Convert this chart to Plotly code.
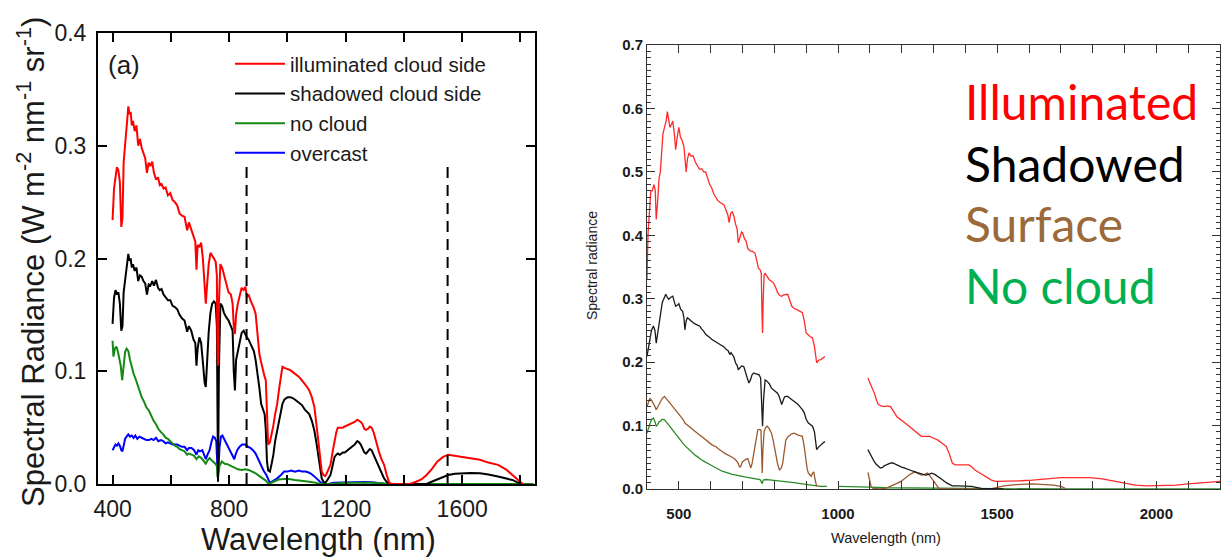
import plotly.graph_objects as go

# ---------------- Panel (a): spectral radiance, W m-2 nm-1 sr-1 ----------------
illum_nm = [400, 405, 410, 415, 420, 425, 430, 434, 438, 442,
            446, 450, 454, 458, 462, 466, 470, 476, 482, 488,
            494, 500, 506, 512, 518, 524, 530, 536, 542, 549,
            556, 562, 568, 575, 582, 590, 598, 606, 614, 622,
            630, 638, 647, 656, 662, 670, 678, 684, 688, 692,
            698, 704, 710, 716, 720, 724, 730, 736, 742, 748,
            754, 758, 760, 762, 765, 770, 776, 782, 790, 798,
            806, 812, 816, 820, 824, 830, 836, 843, 850, 856,
            861, 867, 873, 879, 885, 891, 897, 904, 910, 916,
            922, 926, 930, 934, 940, 946, 952, 958, 965, 972,
            978, 983, 990, 1001, 1010, 1020, 1030, 1040, 1050, 1060,
            1068, 1075, 1084, 1093, 1100, 1105, 1112, 1118, 1124, 1130,
            1136, 1142, 1148, 1155, 1162, 1168, 1173, 1180, 1190, 1197,
            1206, 1214, 1222, 1231, 1240, 1246, 1252, 1258, 1264, 1270,
            1277, 1283, 1289, 1296, 1302, 1307, 1315, 1323, 1332, 1341,
            1350, 1360, 1380, 1400, 1420, 1442, 1460, 1478, 1495, 1515,
            1535, 1552, 1575, 1600, 1630, 1661, 1690, 1723, 1750, 1772,
            1790, 1808]
illum_rad = [0.234, 0.262, 0.272, 0.281, 0.278, 0.268, 0.228, 0.236, 0.285, 0.302,
             0.310, 0.322, 0.335, 0.328, 0.330, 0.318, 0.322, 0.313, 0.318, 0.300,
             0.306, 0.298, 0.294, 0.289, 0.276, 0.285, 0.282, 0.286, 0.276, 0.270,
             0.272, 0.265, 0.266, 0.262, 0.263, 0.256, 0.258, 0.252, 0.250, 0.247,
             0.240, 0.238, 0.237, 0.225, 0.232, 0.226, 0.220, 0.215, 0.190, 0.212,
             0.210, 0.214, 0.200, 0.168, 0.160, 0.175, 0.195, 0.205, 0.203, 0.200,
             0.197, 0.185, 0.120, 0.105, 0.160, 0.195, 0.192, 0.185, 0.178, 0.170,
             0.168, 0.160, 0.140, 0.133, 0.150, 0.160, 0.168, 0.174, 0.172, 0.175,
             0.166, 0.168, 0.163, 0.160, 0.156, 0.151, 0.135, 0.115, 0.108, 0.100,
             0.095, 0.092, 0.060, 0.035, 0.037, 0.044, 0.052, 0.062, 0.071, 0.085,
             0.096, 0.104, 0.103, 0.102, 0.101, 0.099, 0.097, 0.095, 0.092, 0.089,
             0.086, 0.083, 0.077, 0.068, 0.055, 0.041, 0.025, 0.011, 0.008, 0.007,
             0.010, 0.013, 0.017, 0.028, 0.040, 0.046, 0.050, 0.050, 0.050, 0.051,
             0.052, 0.053, 0.054, 0.055, 0.057, 0.056, 0.055, 0.053, 0.049, 0.048,
             0.049, 0.051, 0.050, 0.046, 0.040, 0.035, 0.028, 0.022, 0.017, 0.008,
             0.001, 0.0, 0.0, 0.0, 0.0, 0.002, 0.004, 0.008, 0.013, 0.020,
             0.024, 0.026, 0.025, 0.0245, 0.023, 0.0215, 0.019, 0.017, 0.013, 0.008,
             0.004, 0.0]

shadow_nm = [400, 405, 410, 415, 420, 425, 430, 434, 438, 442,
             446, 450, 454, 458, 462, 466, 470, 476, 482, 488,
             494, 500, 506, 512, 518, 524, 530, 536, 542, 549,
             556, 562, 568, 575, 582, 590, 598, 606, 614, 622,
             630, 638, 647, 656, 662, 670, 678, 684, 688, 692,
             698, 704, 710, 716, 720, 724, 730, 736, 742, 748,
             754, 758, 760, 762, 765, 770, 776, 782, 790, 798,
             806, 812, 816, 820, 824, 830, 836, 843, 850, 856,
             861, 867, 873, 879, 885, 891, 897, 904, 910, 916,
             922, 926, 930, 934, 940, 946, 952, 958, 965, 972,
             978, 983, 990, 1001, 1010, 1020, 1030, 1040, 1050, 1060,
             1068, 1075, 1084, 1093, 1100, 1105, 1112, 1118, 1124, 1130,
             1136, 1142, 1148, 1155, 1162, 1168, 1173, 1180, 1190, 1197,
             1206, 1214, 1222, 1231, 1240, 1246, 1252, 1258, 1264, 1270,
             1277, 1283, 1289, 1296, 1302, 1307, 1315, 1323, 1332, 1341,
             1350, 1400, 1478, 1495, 1515, 1535, 1552, 1575, 1600, 1630,
             1661, 1690, 1723, 1750, 1772, 1790, 1805]
shadow_rad = [0.142, 0.165, 0.172, 0.168, 0.170, 0.160, 0.136, 0.140, 0.170, 0.180,
              0.190, 0.196, 0.204, 0.198, 0.200, 0.192, 0.195, 0.189, 0.192, 0.180,
              0.185, 0.184, 0.180, 0.178, 0.168, 0.177, 0.176, 0.180, 0.176, 0.181,
              0.174, 0.172, 0.173, 0.168, 0.166, 0.163, 0.163, 0.158, 0.157, 0.155,
              0.150, 0.147, 0.145, 0.135, 0.140, 0.136, 0.128, 0.125, 0.105, 0.120,
              0.130, 0.125, 0.108, 0.090, 0.086, 0.110, 0.135, 0.152, 0.160, 0.162,
              0.160, 0.140, 0.020, 0.002, 0.100, 0.160, 0.158, 0.152, 0.148, 0.145,
              0.140, 0.136, 0.100, 0.083, 0.110, 0.118, 0.128, 0.134, 0.136, 0.132,
              0.130, 0.128, 0.125, 0.121, 0.118, 0.110, 0.100, 0.085, 0.071, 0.066,
              0.062, 0.048, 0.020, 0.012, 0.011, 0.018, 0.026, 0.038, 0.048, 0.058,
              0.066, 0.071, 0.075, 0.077, 0.077, 0.076, 0.074, 0.072, 0.070, 0.066,
              0.064, 0.062, 0.056, 0.047, 0.036, 0.026, 0.014, 0.005, 0.002, 0.001,
              0.003, 0.005, 0.008, 0.016, 0.024, 0.026, 0.027, 0.026, 0.028, 0.028,
              0.030, 0.031, 0.033, 0.035, 0.038, 0.037, 0.035, 0.032, 0.028, 0.027,
              0.029, 0.031, 0.030, 0.026, 0.022, 0.019, 0.014, 0.009, 0.005, 0.002,
              0.0, 0.0, 0.0, 0.002, 0.004, 0.006, 0.008, 0.009, 0.0095, 0.0098,
              0.0095, 0.0085, 0.0066, 0.005, 0.0036, 0.0015, 0.0]

clear_nm = [400, 403, 408, 413, 418, 423, 428, 433, 438, 443,
            448, 454, 460, 466, 472, 478, 485, 492, 500, 508,
            516, 525, 533, 541, 549, 557, 566, 574, 582, 590,
            598, 606, 614, 622, 630, 638, 647, 656, 662, 671,
            680, 688, 696, 705, 714, 720, 726, 733, 740, 751,
            758, 760, 763, 767, 775, 785, 794, 806, 818, 830,
            843, 855, 867, 879, 891, 904, 916, 926, 934, 945,
            952, 970, 989, 1005, 1026, 1050, 1075, 1100, 1112, 1150,
            1200, 1250, 1300, 1350, 1500, 1600, 1700, 1800, 1845]
clear_rad = [0.127, 0.113, 0.120, 0.122, 0.118, 0.112, 0.105, 0.092, 0.108, 0.117,
             0.120, 0.118, 0.110, 0.103, 0.098, 0.094, 0.088, 0.082, 0.077, 0.073,
             0.068, 0.065, 0.060, 0.056, 0.053, 0.049, 0.046, 0.044, 0.041, 0.040,
             0.038, 0.036, 0.034, 0.033, 0.031, 0.030, 0.029, 0.026, 0.027, 0.026,
             0.025, 0.022, 0.0245, 0.023, 0.0195, 0.018, 0.021, 0.023, 0.021, 0.0185,
             0.016, 0.006, 0.008, 0.016, 0.020, 0.018, 0.0176, 0.016, 0.014, 0.013,
             0.0125, 0.013, 0.0125, 0.011, 0.0095, 0.007, 0.005, 0.003, 0.0006, 0.001,
             0.002, 0.004, 0.0045, 0.0045, 0.0036, 0.003, 0.002, 0.001, 0.0, 0.0,
             0.001, 0.001, 0.001, 0.0, 0.0, 0.0005, 0.0005, 0.0, 0.0]

overcast_nm = [400, 405, 410, 415, 420, 425, 430, 434, 438, 443,
               448, 454, 460, 466, 472, 478, 485, 492, 500, 508,
               516, 525, 533, 541, 549, 557, 566, 574, 582, 590,
               598, 606, 614, 622, 630, 638, 647, 656, 662, 671,
               680, 688, 694, 700, 708, 714, 720, 726, 733, 740,
               745, 751, 756, 760, 763, 767, 772, 777, 783, 790,
               800, 808, 814, 818, 822, 828, 836, 845, 855, 864,
               873, 882, 891, 900, 910, 918, 928, 934, 940, 946,
               952, 965, 978, 989, 1000, 1013, 1026, 1040, 1050, 1063,
               1075, 1087, 1100, 1112, 1125, 1140, 1160, 1200, 1234, 1260,
               1290, 1320, 1340]
overcast_rad = [0.030, 0.033, 0.035, 0.034, 0.036, 0.034, 0.030, 0.029, 0.035, 0.040,
                0.042, 0.044, 0.042, 0.043, 0.041, 0.043, 0.040, 0.042, 0.041, 0.040,
                0.039, 0.039, 0.040, 0.039, 0.041, 0.038, 0.039, 0.038, 0.036, 0.037,
                0.036, 0.035, 0.035, 0.035, 0.034, 0.033, 0.033, 0.030, 0.032, 0.032,
                0.030, 0.026, 0.030, 0.029, 0.030, 0.026, 0.022, 0.026, 0.030, 0.038,
                0.042, 0.041, 0.038, 0.014, 0.011, 0.032, 0.042, 0.043, 0.040, 0.036,
                0.032, 0.027, 0.024, 0.022, 0.026, 0.030, 0.033, 0.035, 0.035, 0.033,
                0.032, 0.030, 0.027, 0.022, 0.017, 0.012, 0.008, 0.004, 0.001, 0.002,
                0.003, 0.005, 0.008, 0.011, 0.011, 0.012, 0.011, 0.012, 0.011, 0.011,
                0.010, 0.008, 0.005, 0.002, 0.0, 0.0, 0.001, 0.0015, 0.002, 0.0018,
                0.0015, 0.0008, 0.0]

# Wavelengths marked with dashed vertical lines in panel (a)
marked_nm = [860, 1550]
marked_top = 0.287

# ---------------- Right panel: spectral radiance, two detector ranges ----------------
ill_vis_nm = [400, 403, 408, 412, 416, 422, 426, 429, 433, 438,
              442, 446, 450, 455, 460, 464, 468, 472, 477, 481,
              486, 490, 495, 500, 505, 510, 516, 520, 523, 527,
              532, 538, 545, 552, 558, 565, 572, 578, 584, 590,
              597, 603, 610, 616, 622, 629, 636, 642, 648, 654,
              658, 663, 668, 673, 678, 683, 687, 692, 697, 700,
              706, 712, 716, 720, 725, 730, 735, 739, 745, 750,
              755, 759, 761, 763, 765, 768, 771, 777, 784, 790,
              797, 804, 810, 817, 823, 829, 836, 842, 848, 855,
              862, 868, 875, 881, 888, 894, 900, 907, 913, 920,
              926, 933, 939, 946, 952, 959]
ill_vis = [0.33, 0.40, 0.44, 0.47, 0.47, 0.48, 0.47, 0.425, 0.45, 0.49,
           0.50, 0.53, 0.56, 0.57, 0.58, 0.595, 0.585, 0.57, 0.575, 0.58,
           0.56, 0.535, 0.555, 0.57, 0.555, 0.55, 0.54, 0.52, 0.50, 0.52,
           0.53, 0.525, 0.525, 0.515, 0.51, 0.504, 0.505, 0.50, 0.50, 0.49,
           0.48, 0.475, 0.465, 0.46, 0.455, 0.452, 0.45, 0.448, 0.44, 0.432,
           0.42, 0.435, 0.437, 0.43, 0.418, 0.41, 0.388, 0.398, 0.405, 0.404,
           0.395, 0.39, 0.38, 0.377, 0.375, 0.375, 0.374, 0.372, 0.36, 0.348,
           0.346, 0.34, 0.28, 0.246, 0.30, 0.338, 0.34, 0.335, 0.33, 0.328,
           0.325, 0.318, 0.31, 0.305, 0.304, 0.306, 0.307, 0.307, 0.298, 0.288,
           0.285, 0.283, 0.282, 0.28, 0.278, 0.265, 0.246, 0.242, 0.24, 0.238,
           0.225, 0.199, 0.203, 0.204, 0.206, 0.209]
ill_ir_nm = [1094, 1100, 1107, 1115, 1121, 1127, 1135, 1146, 1155, 1165,
             1175, 1185, 1198, 1211, 1224, 1236, 1249, 1262, 1275, 1288,
             1301, 1314, 1327, 1340, 1350, 1359, 1368, 1378, 1395, 1411,
             1420, 1430, 1443, 1456, 1469, 1482, 1495, 1508, 1540, 1575,
             1611, 1650, 1700, 1740, 1770, 1792, 1830, 1870, 1900, 1934,
             1970, 1999, 2030, 2063, 2100, 2127, 2160, 2200]
ill_ir = [0.175, 0.168, 0.162, 0.150, 0.140, 0.133, 0.131, 0.130, 0.131, 0.130,
          0.122, 0.114, 0.109, 0.104, 0.098, 0.093, 0.088, 0.083, 0.083, 0.083,
          0.080, 0.077, 0.072, 0.067, 0.055, 0.041, 0.038, 0.038, 0.038, 0.038,
          0.035, 0.030, 0.026, 0.022, 0.018, 0.014, 0.012, 0.012, 0.012, 0.013,
          0.014, 0.016, 0.018, 0.018, 0.018, 0.018, 0.016, 0.012, 0.009, 0.006,
          0.005, 0.005, 0.005, 0.006, 0.008, 0.009, 0.011, 0.012]

shd_vis_nm = [400, 405, 409, 414, 420, 425, 429, 433, 438, 443,
              448, 453, 459, 464, 468, 474, 481, 486, 490, 496,
              500, 506, 512, 516, 519, 523, 527, 532, 538, 545,
              552, 558, 565, 572, 578, 584, 590, 597, 603, 610,
              616, 622, 629, 636, 642, 649, 655, 660, 664, 668,
              673, 678, 683, 687, 691, 697, 704, 710, 715, 720,
              725, 730, 735, 740, 746, 752, 757, 760, 763, 766,
              769, 771, 777, 784, 791, 797, 804, 810, 816, 820,
              823, 828, 832, 836, 842, 849, 855, 862, 868, 875,
              881, 888, 894, 900, 907, 913, 920, 926, 933, 939,
              946, 952, 959]
shd_vis = [0.209, 0.225, 0.236, 0.25, 0.257, 0.25, 0.23, 0.245, 0.265, 0.28,
           0.294, 0.30, 0.307, 0.302, 0.299, 0.302, 0.304, 0.295, 0.288, 0.29,
           0.292, 0.283, 0.28, 0.27, 0.251, 0.265, 0.27, 0.268, 0.265, 0.262,
           0.26, 0.258, 0.257, 0.252, 0.249, 0.244, 0.242, 0.239, 0.236, 0.234,
           0.232, 0.23, 0.228, 0.226, 0.224, 0.22, 0.218, 0.212, 0.215, 0.212,
           0.208, 0.199, 0.195, 0.188, 0.191, 0.194, 0.193, 0.185, 0.175, 0.167,
           0.172, 0.18, 0.183, 0.182, 0.181, 0.18, 0.175, 0.14, 0.099, 0.14,
           0.168, 0.172, 0.17, 0.166, 0.159, 0.156, 0.153, 0.151, 0.145, 0.138,
           0.133, 0.14, 0.145, 0.146, 0.146, 0.143, 0.141, 0.139, 0.136, 0.133,
           0.13, 0.125, 0.12, 0.11, 0.104, 0.101, 0.099, 0.09, 0.062, 0.066,
           0.07, 0.072, 0.075]
shd_ir_nm = [1094, 1100, 1107, 1114, 1120, 1127, 1133, 1140, 1146, 1152,
             1160, 1166, 1172, 1180, 1189, 1198, 1210, 1223, 1236, 1249,
             1262, 1275, 1285, 1294, 1304, 1314, 1327, 1340, 1350, 1359,
             1380, 1404, 1420, 1430, 1450, 1480, 1520]
shd_ir = [0.062, 0.056, 0.050, 0.043, 0.039, 0.035, 0.033, 0.034, 0.037, 0.038,
          0.040, 0.041, 0.041, 0.039, 0.037, 0.035, 0.033, 0.030, 0.028, 0.026,
          0.024, 0.022, 0.023, 0.025, 0.023, 0.020, 0.015, 0.010, 0.007, 0.005,
          0.005, 0.005, 0.004, 0.003, 0.001, 0.0005, 0.0]

srf_vis_nm = [400, 405, 409, 414, 420, 425, 429, 434, 438, 442,
              448, 455, 460, 468, 474, 480, 487, 494, 500, 506,
              513, 519, 526, 532, 539, 545, 552, 558, 565, 571,
              578, 584, 590, 597, 603, 610, 616, 623, 629, 636,
              642, 649, 655, 662, 668, 674, 680, 687, 690, 694,
              700, 707, 712, 717, 721, 726, 730, 735, 739, 744,
              748, 753, 758, 760, 762, 764, 766, 768, 773, 778,
              784, 791, 797, 804, 810, 816, 821, 826, 831, 836,
              842, 849, 855, 862, 868, 875, 881, 888, 893, 898,
              903, 907, 912, 916, 920, 924, 928, 933]
srf_vis = [0.13, 0.138, 0.143, 0.14, 0.135, 0.13, 0.125, 0.13, 0.135, 0.138,
           0.143, 0.146, 0.143, 0.138, 0.134, 0.13, 0.125, 0.121, 0.118, 0.115,
           0.11, 0.104, 0.101, 0.098, 0.095, 0.093, 0.09, 0.087, 0.085, 0.083,
           0.08, 0.077, 0.075, 0.072, 0.07, 0.068, 0.067, 0.064, 0.061, 0.059,
           0.057, 0.055, 0.054, 0.052, 0.05, 0.048, 0.045, 0.04, 0.035, 0.035,
           0.043, 0.046, 0.047, 0.048, 0.04, 0.033, 0.04, 0.055, 0.067, 0.085,
           0.093, 0.094, 0.093, 0.06, 0.025, 0.06, 0.088, 0.091, 0.097, 0.099,
           0.095, 0.088, 0.075, 0.056, 0.04, 0.03, 0.032, 0.04, 0.06, 0.077,
           0.082, 0.085, 0.087, 0.088, 0.086, 0.085, 0.084, 0.083, 0.07, 0.046,
           0.032, 0.025, 0.022, 0.02, 0.025, 0.027, 0.015, 0.004]
srf_ir_nm = [1094, 1099, 1104, 1110, 1130, 1150, 1160, 1172, 1185, 1198,
             1210, 1223, 1233, 1243, 1252, 1262, 1272, 1281, 1290, 1301,
             1310, 1317, 1330, 1480, 1521, 1560, 1611, 1650, 1676, 1700,
             1714]
srf_ir = [0.026, 0.012, 0.004, 0.001, 0.0, 0.001, 0.003, 0.006, 0.009, 0.012,
          0.017, 0.022, 0.025, 0.027, 0.024, 0.022, 0.023, 0.025, 0.020, 0.012,
          0.005, 0.001, 0.0, 0.0, 0.005, 0.007, 0.008, 0.007, 0.006, 0.004,
          0.001]

clr_vis_nm = [400, 405, 410, 415, 420, 425, 429, 434, 438, 442,
              448, 455, 461, 468, 474, 480, 487, 494, 500, 506,
              513, 520, 526, 532, 539, 545, 552, 558, 565, 571,
              578, 584, 590, 597, 603, 610, 616, 623, 629, 636,
              642, 655, 668, 681, 694, 707, 720, 733, 745, 755,
              760, 762, 765, 775, 791, 810, 836, 862, 888, 910,
              926, 945, 965]
clr_vis = [0.088, 0.098, 0.104, 0.110, 0.112, 0.106, 0.099, 0.102, 0.106, 0.107,
           0.110, 0.109, 0.106, 0.101, 0.097, 0.093, 0.088, 0.083, 0.079, 0.076,
           0.072, 0.068, 0.065, 0.062, 0.059, 0.056, 0.053, 0.051, 0.048, 0.046,
           0.044, 0.042, 0.041, 0.039, 0.037, 0.035, 0.033, 0.031, 0.030, 0.028,
           0.027, 0.025, 0.023, 0.022, 0.020, 0.019, 0.018, 0.017, 0.016, 0.015,
           0.010, 0.009, 0.014, 0.015, 0.014, 0.013, 0.012, 0.010, 0.008, 0.006,
           0.005, 0.004, 0.004]
clr_ir_nm = [1000, 1030, 1060, 1100, 1150, 1200, 1300, 1400, 1500, 1700, 2200]
clr_ir = [0.004, 0.004, 0.003, 0.003, 0.002, 0.002, 0.0015, 0.001, 0.0005, 0.0, 0.0]

right_labels = ["Illuminated", "Shadowed", "Surface", "No cloud"]

# ---------------- Styling ----------------
W, H = 1225, 559
ARIAL = "Liberation Sans, Arial, sans-serif"
LEFT_COLORS = {"illum": "#ff0000", "shadow": "#000000", "clear": "#138a13", "overcast": "#0000ff"}
RIGHT_COLORS = {"illum": "#ff2a2a", "shadow": "#1a1a1a", "surface": "#9a5a2e", "clear": "#2a8a2a"}
LABEL_COLORS = ["#ff0000", "#000000", "#9c6a3a", "#00b050"]


def hx(p):
    return p / W


def hy(p):
    return 1 - p / H


def joined(a_x, a_y, b_x, b_y):
    """Concatenate two spectral segments with a break between them."""
    return list(a_x) + [None] + list(b_x), list(a_y) + [None] + list(b_y)


fig = go.Figure()

left_series = [
    (illum_nm, illum_rad, "illuminated cloud side", LEFT_COLORS["illum"]),
    (shadow_nm, shadow_rad, "shadowed cloud side", LEFT_COLORS["shadow"]),
    (clear_nm, clear_rad, "no cloud", LEFT_COLORS["clear"]),
    (overcast_nm, overcast_rad, "overcast", LEFT_COLORS["overcast"]),
]
# draw order: overcast & clear underneath the cloud-side spectra
for xs, ys, name, col in [left_series[3], left_series[2], left_series[1], left_series[0]]:
    fig.add_trace(go.Scatter(x=xs, y=ys, name=name, mode="lines",
                             line=dict(color=col, width=2), xaxis="x", yaxis="y",
                             showlegend=False, hoverinfo="skip"))
# legend entries in the original order
for xs, ys, name, col in left_series:
    fig.add_trace(go.Scatter(x=[None], y=[None], name=name, mode="lines",
                             line=dict(color=col, width=2), xaxis="x", yaxis="y",
                             showlegend=True))

for wl in marked_nm:
    fig.add_trace(go.Scatter(x=[wl, wl], y=[0, marked_top], mode="lines",
                             line=dict(color="black", width=2, dash="11px,7px"),
                             xaxis="x", yaxis="y", showlegend=False, hoverinfo="skip"))

right_series = [
    (clr_vis_nm, clr_vis, clr_ir_nm, clr_ir, RIGHT_COLORS["clear"]),
    (srf_vis_nm, srf_vis, srf_ir_nm, srf_ir, RIGHT_COLORS["surface"]),
    (shd_vis_nm, shd_vis, shd_ir_nm, shd_ir, RIGHT_COLORS["shadow"]),
    (ill_vis_nm, ill_vis, ill_ir_nm, ill_ir, RIGHT_COLORS["illum"]),
]
for ax, ay, bx, by, col in right_series:
    xs, ys = joined(ax, ay, bx, by)
    fig.add_trace(go.Scatter(x=xs, y=ys, mode="lines", connectgaps=False,
                             line=dict(color=col, width=1.3), xaxis="x2", yaxis="y2",
                             showlegend=False, hoverinfo="skip"))

# panel geometry (pixel edges of the plotting frames)
L_X0, L_X1, L_Y0, L_Y1 = 98, 535, 33, 484
R_X0, R_X1, R_Y0, R_Y1 = 647, 1220, 45, 489

left_axis_common = dict(showgrid=False, zeroline=False, showline=True, linecolor="black",
                        linewidth=2, mirror="ticks", ticks="inside", tickcolor="black",
                        tickwidth=2, ticklen=9, automargin=False,
                        tickfont=dict(family=ARIAL, size=23, color="#1a1a1a"))
right_axis_common = dict(showgrid=False, zeroline=False, showline=True, linecolor="#333333",
                         linewidth=1, mirror="ticks", ticks="inside", tickcolor="#333333",
                         tickwidth=1, ticklen=8, automargin=False,
                         tickfont=dict(family=ARIAL, size=15, color="#1a1a1a", weight="bold"))

fig.update_layout(
    width=W, height=H,
    margin=dict(l=0, r=0, t=0, b=0),
    paper_bgcolor="white", plot_bgcolor="white",
    font=dict(family=ARIAL, color="#1a1a1a"),
    xaxis=dict(domain=[hx(L_X0), hx(L_X1)], range=[350, 1850],
               tickvals=[400, 800, 1200, 1600], ticklabelstandoff=3,
               minor=dict(ticks="inside", dtick=200, tick0=400, ticklen=9,
                          tickwidth=2, tickcolor="black"),
               anchor="y", **left_axis_common),
    yaxis=dict(domain=[hy(L_Y1), hy(L_Y0)], range=[0, 0.4], dtick=0.1, tickformat=".1f",
               ticklabelstandoff=5, anchor="x", **left_axis_common),
    xaxis2=dict(domain=[hx(R_X0), hx(R_X1)], range=[400, 2200],
                tickvals=[500, 1000, 1500, 2000], ticklabelstandoff=11,
                minor=dict(ticks="inside", dtick=100, tick0=400, ticklen=8,
                           tickwidth=1, tickcolor="#333333"),
                anchor="y2", **right_axis_common),
    yaxis2=dict(domain=[hy(R_Y1), hy(R_Y0)], range=[0, 0.7], dtick=0.1, tickformat=".1f",
                ticklabelstandoff=0,
                minor=dict(ticks="inside", dtick=0.01, ticklen=4, tickwidth=1,
                           tickcolor="#333333"),
                anchor="x2", **right_axis_common),
    showlegend=True,
    legend=dict(x=hx(230), y=hy(44), xanchor="left", yanchor="top",
                bgcolor="rgba(0,0,0,0)", borderwidth=0, itemwidth=50,
                tracegroupgap=0, font=dict(family=ARIAL, size=20.5, color="#1a1a1a")),
)

annotations = [
    dict(text="(a)", x=hx(106), y=hy(65), xanchor="left", yanchor="middle",
         font=dict(family=ARIAL, size=26, color="#1a1a1a")),
    dict(text="Wavelength (nm)", x=hx(318), y=hy(539), xanchor="center", yanchor="middle",
         font=dict(family=ARIAL, size=31, color="#1a1a1a")),
    dict(text="Spectral Radiance (W m<sup>-2</sup> nm<sup>-1</sup> sr<sup>-1</sup>)",
         x=hx(31), y=hy(262), xanchor="center", yanchor="middle", textangle=-90,
         font=dict(family=ARIAL, size=31, color="#1a1a1a")),
    dict(text="Wavelength (nm)", x=hx(886), y=hy(538), xanchor="center", yanchor="middle",
         font=dict(family=ARIAL, size=14.5, color="#1a1a1a")),
    dict(text="Spectral radiance", x=hx(592), y=hy(266), xanchor="center", yanchor="middle",
         textangle=-90, font=dict(family=ARIAL, size=14, color="#1a1a1a")),
]
label_rows = [102, 163, 224, 285]
for txt, col, row in zip(right_labels, LABEL_COLORS, label_rows):
    annotations.append(dict(text=txt, x=hx(963), y=hy(row), xanchor="left", yanchor="middle",
                            font=dict(family="Lato, Open Sans, sans-serif", size=48, color=col)))
for a in annotations:
    a.update(xref="paper", yref="paper", showarrow=False)
fig.update_layout(annotations=annotations)

fig.write_html("out.html")
